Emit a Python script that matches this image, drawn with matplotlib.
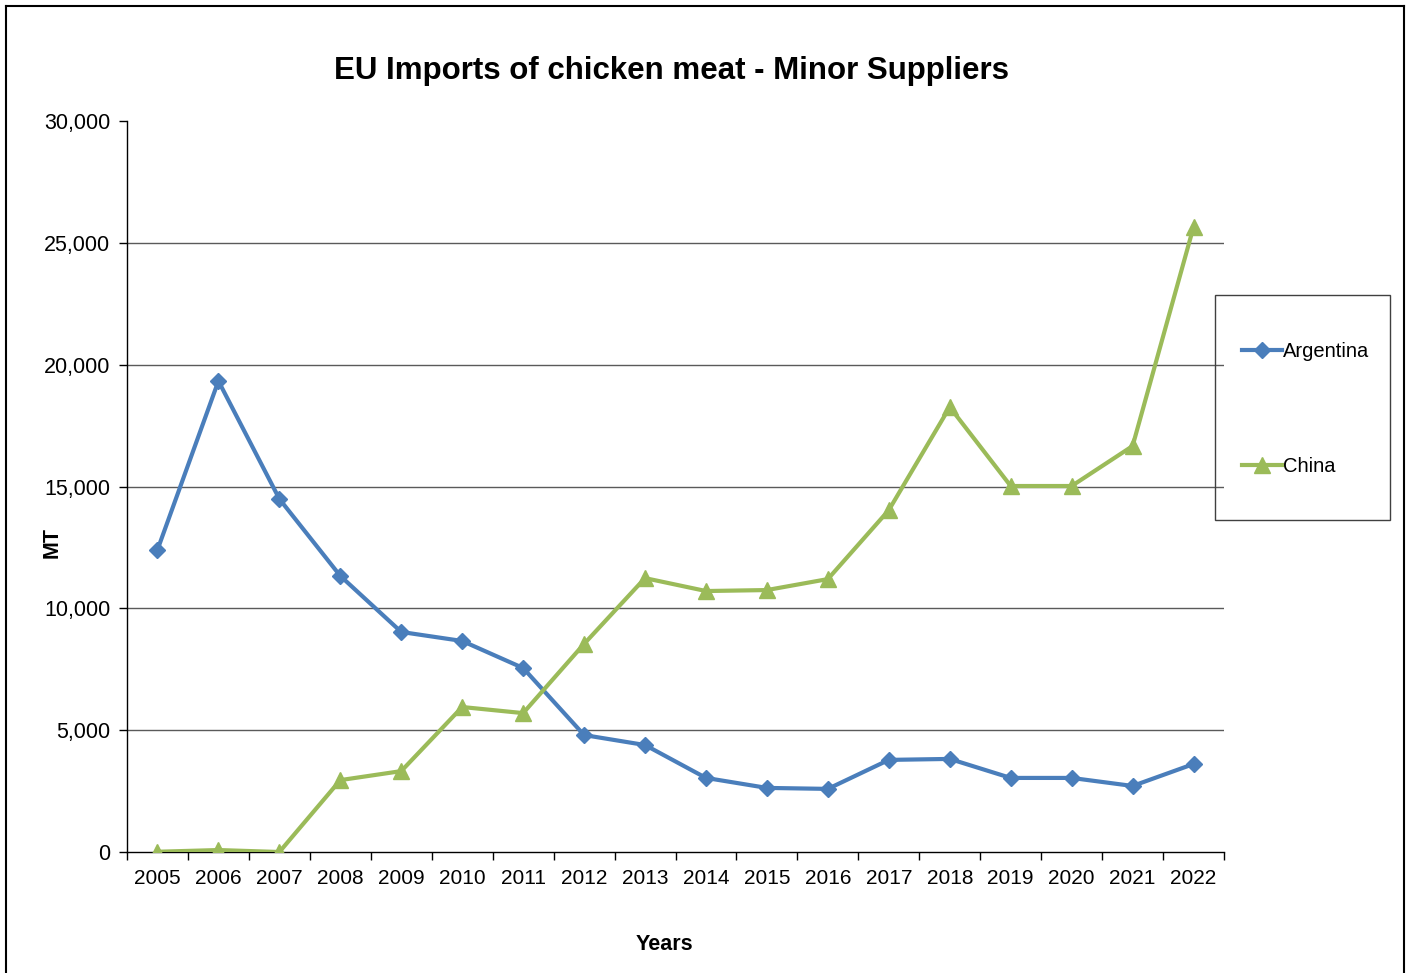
import matplotlib
matplotlib.use("Agg")
import matplotlib.pyplot as plt
from matplotlib.lines import Line2D
from matplotlib.patches import Rectangle
from matplotlib.ticker import FuncFormatter

years = ["2005", "2006", "2007", "2008", "2009", "2010", "2011", "2012", "2013",
         "2014", "2015", "2016", "2017", "2018", "2019", "2020", "2021", "2022"]
argentina = [12400, 19330, 14490, 11330, 9030, 8660, 7550, 4800, 4390,
             3040, 2630, 2590, 3780, 3820, 3040, 3040, 2710, 3610]
china = [10, 80, 0, 2950, 3320, 5950, 5700, 8540, 11240,
         10710, 10750, 11200, 14030, 18260, 15020, 15020, 16660, 25650]
y_ticks = [0, 5000, 10000, 15000, 20000, 25000, 30000]

plt.rcParams["font.family"] = ["Liberation Sans", "DejaVu Sans"]

W, H = 1407, 973
fig = plt.figure(figsize=(W / 100, H / 100), dpi=100)
ax = fig.add_axes([127 / W, 1 - 852 / H, (1224 - 127) / W, (852 - 121) / H])

x = list(range(len(years)))
ax.plot(x, argentina, color="#4A7EBB", lw=3, marker="D", ms=8,
        label="Argentina", zorder=3)
ax.plot(x, china, color="#9BBB59", lw=3, marker="^", ms=11,
        label="China", zorder=3)

# horizontal gridlines (none at the top)
for v in y_ticks[1:-1]:
    ax.axhline(v, color="#5a5a5a", lw=1, zorder=1)

ax.set_xlim(-0.5, len(years) - 0.5)
ax.set_ylim(0, 30000)
ax.set_yticks(y_ticks)
ax.yaxis.set_major_formatter(FuncFormatter(lambda v, _: f"{int(v):,}"))
ax.set_xticks([i + 0.5 for i in range(-1, len(years))])
ax.set_xticklabels([])
ax.set_xticks(x, minor=True)
ax.set_xticklabels(years, minor=True, fontsize=15)
ax.tick_params(axis="x", which="major", length=6, direction="out", width=1)
ax.tick_params(axis="x", which="minor", length=0, pad=12)
ax.tick_params(axis="y", length=6, direction="out", width=1, labelsize=15.5, pad=6)

for s in ["top", "right"]:
    ax.spines[s].set_visible(False)
for s in ["left", "bottom"]:
    ax.spines[s].set_color("black")
    ax.spines[s].set_linewidth(1)

fig.text(672 / W, 1 - 71 / H, "EU Imports of chicken meat - Minor Suppliers",
         ha="center", va="center", fontsize=22.5, fontweight="bold")
fig.text(664 / W, 1 - 944 / H, "Years", ha="center", va="center",
         fontsize=15.5, fontweight="bold")
fig.text(52 / W, 1 - 543 / H, "MT", ha="center", va="center",
         fontsize=15.5, fontweight="bold", rotation=90)

# legend box
fig.patches.append(Rectangle((1215 / W, 1 - 520 / H), 175 / W, 225 / H,
                             transform=fig.transFigure, fill=False,
                             edgecolor="#404040", lw=1))
fig.legend(loc="center left", bbox_to_anchor=(1232 / W, 1 - 409 / H),
           frameon=False, fontsize=14.5, labelspacing=4.75,
           handlelength=2.0, handletextpad=0.05, borderpad=0)

# outer chart border
for xs, ys in [((6, 6), (973, 6)), ((6, 1404), (6, 6)), ((1404, 1404), (6, 973))]:
    fig.add_artist(Line2D([a / W for a in xs], [1 - b / H for b in ys],
                          color="black", lw=1.5, transform=fig.transFigure))

fig.savefig("out.png", dpi=100)
